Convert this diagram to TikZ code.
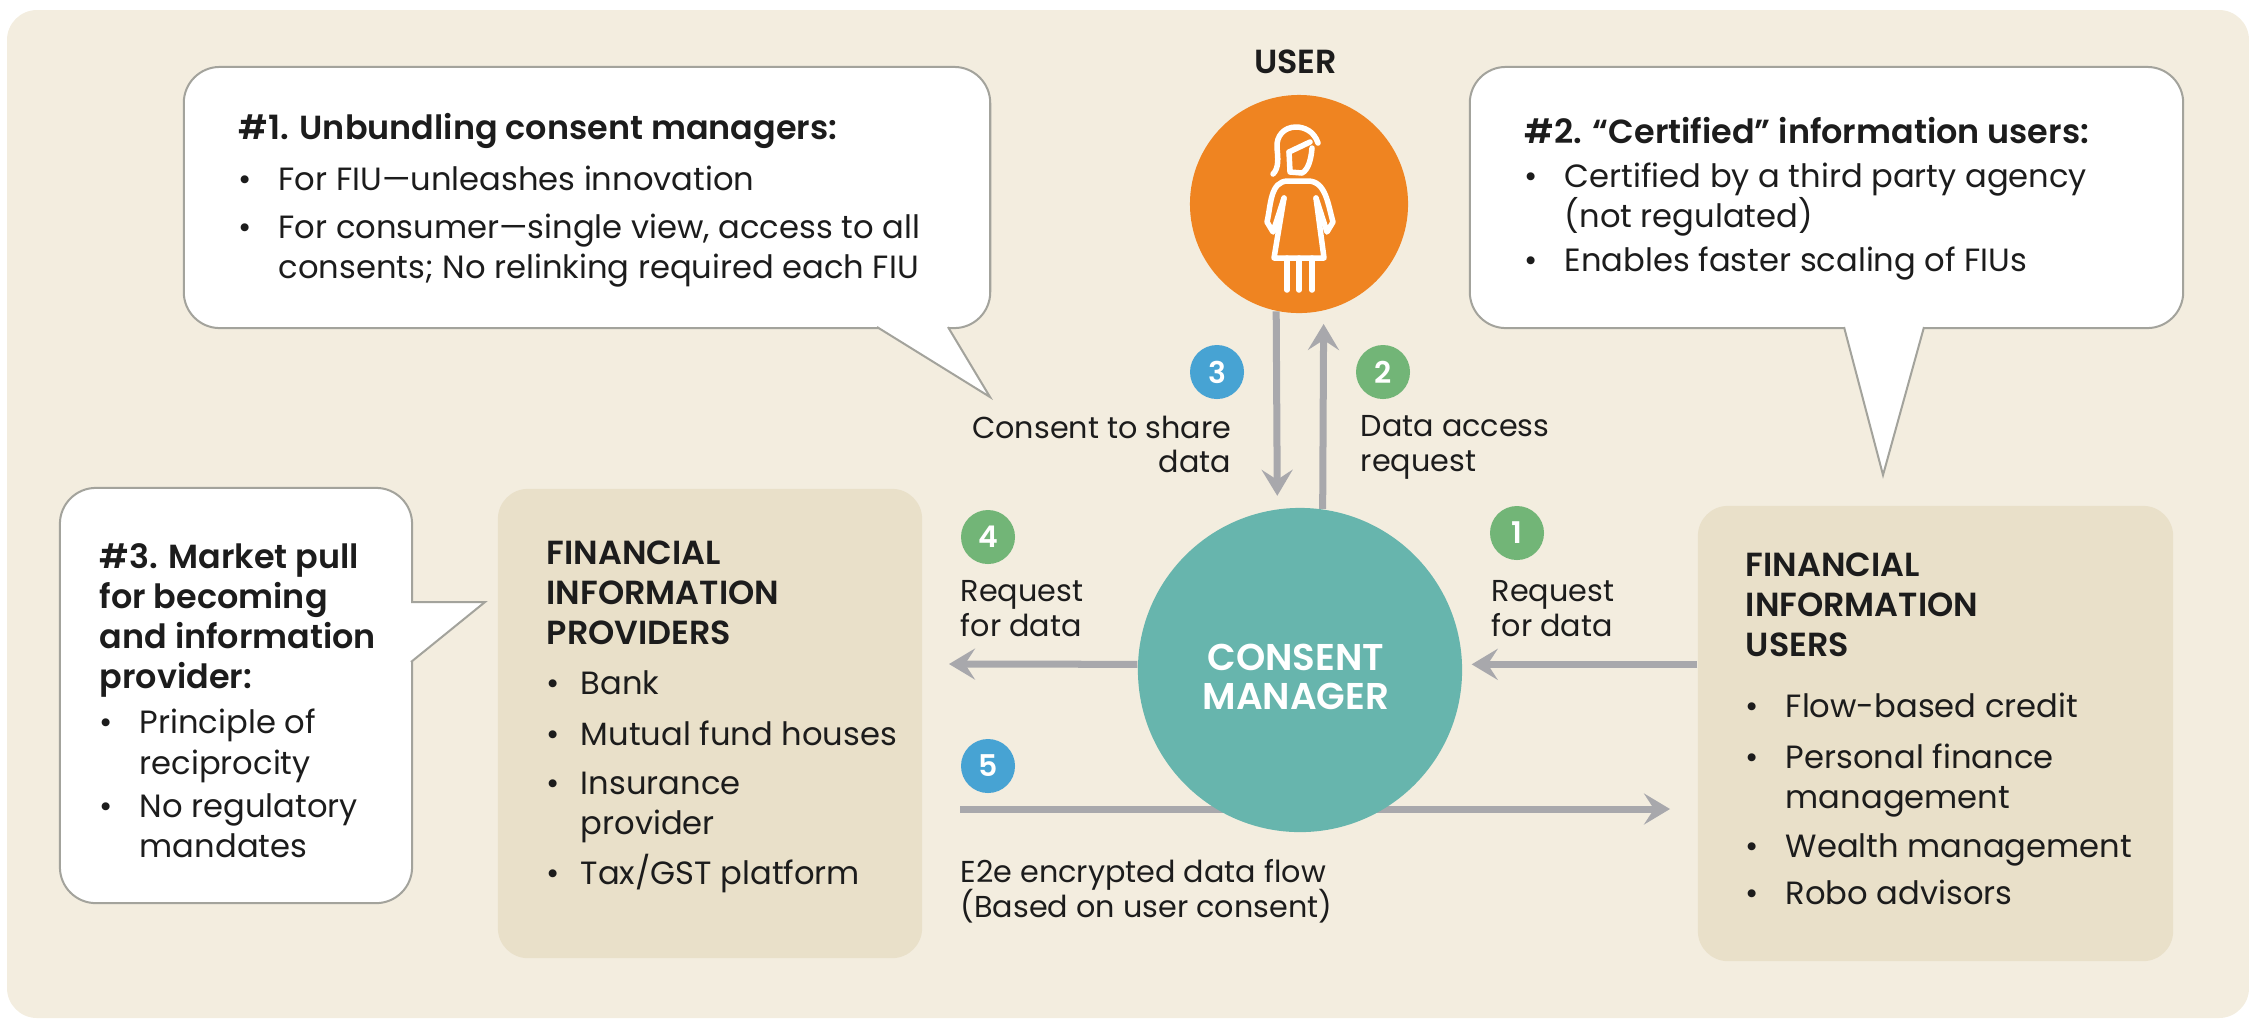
\documentclass[tikz,border=0pt]{standalone}
\usepackage{fontspec}
\setmainfont[BoldFont={Poppins SemiBold}]{Poppins}
\usetikzlibrary{arrows.meta}
\definecolor{panelc}{HTML}{F3EDDF}
\definecolor{boxc}{HTML}{E9E0C9}
\definecolor{orangec}{HTML}{EF8421}
\definecolor{tealc}{HTML}{67B5AD}
\definecolor{greenc}{HTML}{72B577}
\definecolor{bluec}{HTML}{47A3D3}
\definecolor{flowc}{HTML}{A8A8AC}
\definecolor{edgec}{HTML}{A3A39C}
\definecolor{inkc}{HTML}{1C1C1C}
\lineskiplimit=-20pt
\newcommand{\bull}[1][11.4pt]{\makebox[#1][l]{\textbullet}}
\newcommand{\bullb}[1][11.4pt]{\hspace*{#1}}
\newcommand{\hd}[1]{{\fontsize{9.5}{11.4}\selectfont\bfseries #1}}
\tikzset{
    x=0.01cm, y=-0.01cm,
    bubble/.style={draw=edgec, fill=white, line width=0.02cm, rounded corners=0.36cm, inner sep=0pt},
    tail/.style={draw=edgec, fill=white, line width=0.02cm, line join=miter},
    infobox/.style={fill=boxc, rounded corners=0.3cm, inner sep=0pt},
    badge/.style={circle, minimum size=0.54cm, inner sep=0pt, text=white, font=\fontsize{8.5}{10}\selectfont\bfseries},
    flow/.style={draw=flowc, line width=0.07cm, -{Stealth[length=0.26cm,width=0.31cm,inset=0.1cm]}},
    body/.style={align=left, inner sep=0pt, anchor=north west, text=inkc, font=\fontsize{9.15}{11.4}\selectfont},
    label/.style={body, font=\fontsize{8.6}{9.9}\selectfont},
    icon/.style={draw=white, line width=0.055cm, line cap=round, line join=round},
}
\begin{document}
\begin{tikzpicture}
            \useasboundingbox (0,0) rectangle (2249,1020);
            \fill[panelc, rounded corners=0.3cm] (7,10) rectangle (2249,1018);

            \node[bubble, minimum width=8.06cm, minimum height=2.61cm] (A) at (587,197.5) {};
            \node[bubble, minimum width=7.13cm, minimum height=2.61cm] (B) at (1826.5,197.5) {};
            \node[bubble, minimum width=3.52cm, minimum height=4.15cm] (C) at (236,695.5) {};
            \draw[tail] (877,327) -- (990,397) -- (948,327);
            \draw[tail] (1844,327) -- (1883,475) -- (1924,327);
            \draw[tail] (411,602) -- (485,602) -- (411,662);

            \coordinate (S) at (960,809);
            \coordinate (T) at (1670,809);
            \draw[flow] (S) -- (T);

            \node[circle, fill=orangec, minimum size=2.18cm, inner sep=0pt] (U) at (1299,204) {};
            \node[circle, fill=tealc, minimum size=3.24cm, inner sep=0pt] (M) at (1300,670) {};
            \node[infobox, minimum width=4.24cm, minimum height=4.69cm] (P) at (710,723.5) {};
            \node[infobox, minimum width=4.75cm, minimum height=4.55cm] (R) at (1935.5,733.5) {};

            \coordinate (Q) at (949,664);

            \draw[flow, shorten >=0.13cm] (U.-102) -- (M.98);
            \draw[flow, shorten >=0.13cm] (M.82) -- (U.-77);
            \draw[flow] (M.178) -- (Q);
            \draw[flow, shorten >=0.09cm] (R.west |- M.2) -- (M.2);

            \draw[icon] (1318,143) .. controls (1314,131) and (1304,127) .. (1296,127) .. controls (1284,127) and (1276,136) .. (1277,148) .. controls (1278,158) and (1279,168) .. (1273,174);
            \draw[icon] (1289,152) -- (1310,142);
            \draw[icon] (1289,152) -- (1290,172) -- (1302,173) .. controls (1308,170) and (1311,160) .. (1312,148);
            \draw[icon] (1284,198) -- (1273,232) -- (1267,222) .. controls (1271,205) and (1270,181) .. (1288,181) -- (1308,181) .. controls (1326,181) and (1328,205) .. (1333,222) -- (1327,232) -- (1316,198);
            \draw[icon] (1284,198) -- (1274,258) -- (1324,258) -- (1316,198);
            \draw[icon] (1287,258) -- (1287,290);
            \draw[icon] (1299,258) -- (1299,290);
            \draw[icon] (1312,258) -- (1312,290);

            \node[badge, fill=bluec] (B3) at (1217,372) {3};
            \node[badge, fill=greenc] (B2) at (1383,372) {2};
            \node[badge, fill=greenc] (B4) at (988,537) {4};
            \node[badge, fill=greenc] (B1) at (1517,533) {1};
            \node[badge, fill=bluec] (B5) at (988,766) {5};

            \node[inner sep=0pt, text=inkc, font=\fontsize{9.5}{10}\selectfont\bfseries] (UL) at (1295.5,62) {USER};
            \node[inner sep=0pt, align=center, text=white, font=\fontsize{10.6}{11}\selectfont\bfseries] (Mt) at (1296,677) {CONSENT\\MANAGER};
            \node[label, align=right, anchor=north east] (L3) at (1232,415) {Consent to share\\data};
            \node[label] (L2) at (1360,415) {Data access\\request};
            \node[label] (L4) at (960,580) {Request\\for data};
            \node[label] (L1) at (1491,580) {Request\\for data};
            \node[label] (L5) at (960,859) {E2e encrypted data flow\\(Based on user consent)};

            \node[body] (At) at (238,113) {\hd{\#1. Unbundling consent managers:}\\[3pt]\bull For FIU---unleashes innovation\\[2.3pt]\bull For consumer---single view, access to all\\\bullb consents; No relinking required each FIU};
            \node[body] (Bt) at (1524,117) {\hd{\#2. “Certified” information users:}\\[1pt]\bull Certified by a third party agency\\\bullb (not regulated)\\[1pt]\bull Enables faster scaling of FIUs};
            \node[body] (Ct) at (99,543) {\hd{\#3. Market pull}\\\hd{for becoming}\\\hd{and information}\\\hd{provider:}\\[1.4pt]\bull Principle of\\\bullb reciprocity\\[1pt]\bull No regulatory\\\bullb mandates};
            \node[body] (Pt) at (546,540) {\hd{FINANCIAL}\\\hd{INFORMATION}\\\hd{PROVIDERS}\\[2.8pt]\bull[9.7pt]Bank\\[3.1pt]\bull[9.7pt]Mutual fund houses\\[2.6pt]\bull[9.7pt]Insurance\\\bullb[9.7pt]provider\\[2.6pt]\bull[9.7pt]Tax/GST platform};
            \node[body] (Rt) at (1745,552) {\hd{FINANCIAL}\\\hd{INFORMATION}\\\hd{USERS}\\[6pt]\bull Flow-based credit\\[2.9pt]\bull Personal finance\\\bullb management\\[2.6pt]\bull Wealth management\\[2pt]\bull Robo advisors};
        \end{tikzpicture}
\end{document}
